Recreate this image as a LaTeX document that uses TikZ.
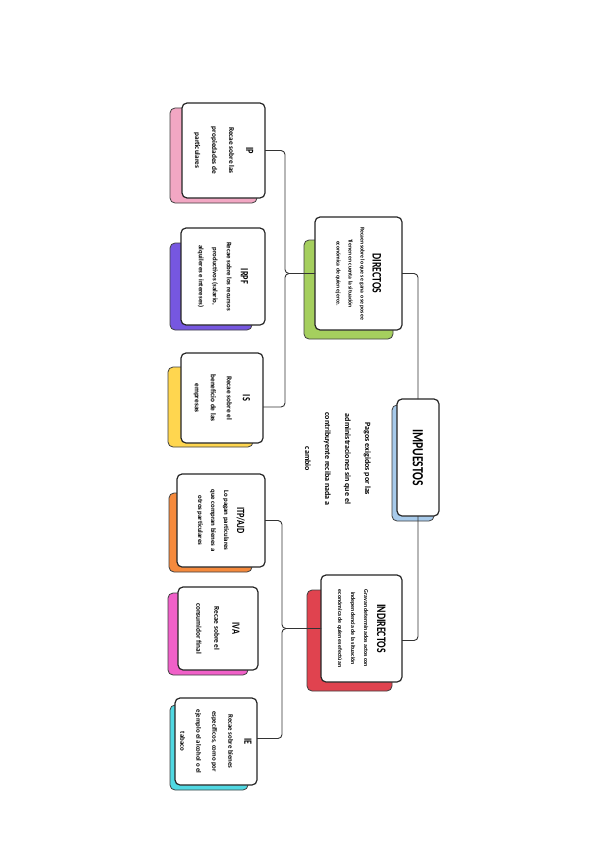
\documentclass[tikz,border=0pt]{standalone}
\usepackage{fontspec}
\setmainfont{Carlito}
\newfontfamily\titlefont{Carlito}[FakeStretch=0.75]
\usetikzlibrary{calc}

\definecolor{azul}{HTML}{A8CBEB}
\definecolor{verde}{HTML}{A5CF5E}
\definecolor{rojo}{HTML}{E0434F}
\definecolor{rosa}{HTML}{F2A7C3}
\definecolor{morado}{HTML}{7657E0}
\definecolor{amarillo}{HTML}{FFD64F}
\definecolor{naranja}{HTML}{F58A3D}
\definecolor{fucsia}{HTML}{F060C8}
\definecolor{cian}{HTML}{50D8E2}

\newcommand{\titulo}[2]{{\titlefont\bfseries\fontsize{#1}{#1}\selectfont #2}}

\begin{document}
\begin{tikzpicture}[
    x=1pt, y=-1pt,
    card/.style={draw=black!85, line width=1.2pt, fill=white, rounded corners=5pt, rotate=-90, align=center, inner sep=2pt, outer sep=0pt},
    sombra/.style={draw=black!75, line width=0.8pt, rounded corners=5pt, rotate=-90, inner sep=0pt, outer sep=0pt},
    conn/.style={draw=black!80, line width=0.9pt, rounded corners=4pt}
]
\fill[white] (0,0) rectangle (600,848);
\useasboundingbox (0,0) rectangle (600,848);

% sombras de colores
\node[sombra, fill=azul, minimum width=116pt, minimum height=42pt] (Is) at (413,463) {};
\node[sombra, fill=verde, minimum width=99pt, minimum height=89pt] (Ds) at (348.5,289.5) {};
\node[sombra, fill=rojo, minimum width=101pt, minimum height=85pt] (Ns) at (349.5,640.5) {};
\node[sombra, fill=rosa, minimum width=95pt, minimum height=87pt] (Ps) at (213.5,155.5) {};
\node[sombra, fill=morado, minimum width=87pt, minimum height=82pt] (Rs) at (211,286.5) {};
\node[sombra, fill=amarillo, minimum width=80pt, minimum height=85pt] (Ss) at (210.5,407) {};
\node[sombra, fill=naranja, minimum width=79pt, minimum height=83pt] (Ts) at (210.5,532.5) {};
\node[sombra, fill=fucsia, minimum width=82pt, minimum height=80pt] (Vs) at (208,634) {};
\node[sombra, fill=cian, minimum width=85pt, minimum height=78pt] (Es) at (209,747.5) {};

% tarjetas
\node[card, minimum width=117pt, minimum height=42pt] (I) at (418,457.5) {\titulo{15.5}{IMPUESTOS}};
\node[card, minimum width=113pt, minimum height=87pt, font=\bfseries\fontsize{5.7}{12}\selectfont] (D) at (358.5,273.5)
    {\titulo{13}{DIRECTOS}\\ Recaen sobre lo que se gana o se posee\\ Tienen en cuenta la situación\\ económica de quien ejerce.};
\node[card, minimum width=107pt, minimum height=81pt, font=\bfseries\fontsize{5.9}{13}\selectfont] (N) at (361.5,628.5)
    {\titulo{13}{INDIRECTOS}\\ Gravan determinados actos con\\ independencia de la situación\\ económica de quienes efectúan};
\node[card, minimum width=95pt, minimum height=83pt, font=\bfseries\fontsize{7.3}{17}\selectfont] (P) at (223.5,150.5)
    {\titulo{11}{IP}\\ Recae sobre las\\ propiedades de\\ particulares};
\node[card, minimum width=97pt, minimum height=84pt, font=\bfseries\fontsize{6.8}{14}\selectfont] (R) at (223,276.5)
    {\titulo{11}{IRPF}\\ Recae sobre los recursos\\ productivos (salario,\\ alquileres e intereses)};
\node[card, minimum width=90pt, minimum height=82pt, font=\bfseries\fontsize{7.3}{16}\selectfont] (S) at (222,398)
    {\titulo{11}{IS}\\ Recae sobre el\\ beneficio de las\\ empresas};
\node[card, minimum width=93pt, minimum height=88pt, font=\bfseries\fontsize{6.8}{13}\selectfont] (T) at (221,520.5)
    {\titulo{11}{ITP/AJD}\\ Lo pagan particulares\\ que compran bienes a\\ otros particulares};
\node[card, minimum width=83pt, minimum height=80pt, font=\bfseries\fontsize{7.3}{18}\selectfont] (V) at (218,628.5)
    {\titulo{11}{IVA}\\ Recae sobre el\\ consumidor final};
\node[card, minimum width=87pt, minimum height=82pt, font=\bfseries\fontsize{6.8}{16}\selectfont] (E) at (216,741.5)
    {\titulo{11}{IE}\\ Recae sobre bienes\\ específicos, como por\\ ejemplo el alcohol o el\\ tabaco};

\node[rotate=-90, align=center, font=\bfseries\fontsize{8}{20}\selectfont] (def) at (338,459)
    {Pagos exigidos por las\\ administraciones sin que el\\ contribuyente reciba nada a\\ cambio};

% conexiones
\draw[conn] (D.north) -| (I.west);
\draw[conn] (I.east) |- ($(N.north)+(0,12)$);
\draw[conn] (P.north) -| (285,273.5) -- (D.south);
\draw[conn] ($(S.north)+(0,9)$) -| (285,273.5) -- (D.south);
\draw[conn] (T.north) -| (282,628.5) -- (N.south);
\draw[conn] ($(E.north)+(0,-3)$) -| (282,628.5) -- (N.south);
\end{tikzpicture}
\end{document}
